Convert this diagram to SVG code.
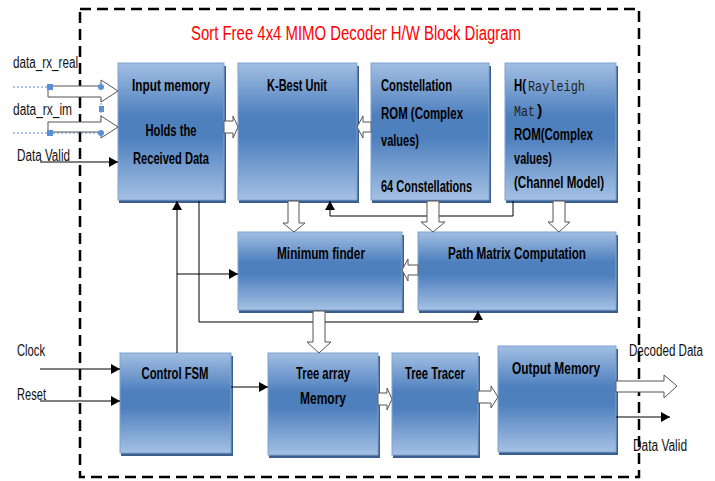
<svg xmlns="http://www.w3.org/2000/svg" width="715" height="481" viewBox="0 0 715 481">
<defs>
<linearGradient id="g" x1="0" y1="0" x2="0" y2="1">
<stop offset="0" stop-color="#a2bfe3"/>
<stop offset="0.38" stop-color="#4f80be"/>
<stop offset="0.55" stop-color="#4f80be"/>
<stop offset="1" stop-color="#a5c1e4"/>
</linearGradient>
<marker id="ah" markerUnits="userSpaceOnUse" markerWidth="9" markerHeight="10" refX="9" refY="5" orient="auto">
<path d="M0,0 L9,5 L0,10 z" fill="#000"/>
</marker>
<style>
.blk{fill:url(#g);stroke:#7fa3cf;stroke-width:1}
.sh{fill:#3a5f8f}
.t{font-family:"Liberation Sans",Arial,sans-serif;font-size:16px;font-weight:bold;fill:#000}
.tm{font-family:"Liberation Mono",monospace;font-size:14px;font-weight:normal;fill:#222}
.lbl{font-family:"Liberation Sans",Arial,sans-serif;font-size:16px;fill:#111}
.ha{fill:#fff;stroke:#555;stroke-width:1}
.la{fill:none;stroke:#000;stroke-width:1;marker-end:url(#ah)}
.sel{fill:none;stroke:#5b8fd8;stroke-width:1;stroke-dasharray:2 2}
.hd{fill:#5b8fd8}
</style>
</defs>
<rect x="0" y="0" width="715" height="481" fill="#fff"/>
<rect x="80" y="9" width="559" height="468" fill="none" stroke="#000" stroke-width="2.5" stroke-dasharray="11 6"/>
<text x="356" y="40" text-anchor="middle" font-family="'Liberation Sans',Arial,sans-serif" font-size="20" fill="#ff0000" textLength="330" lengthAdjust="spacingAndGlyphs">Sort Free 4x4 MIMO Decoder H/W Block Diagram</text>

<g id="input-memory">
<rect class="sh" x="119" y="66" width="107" height="137"/>
<rect class="blk" x="118" y="63" width="106" height="137"/>
<text class="t" x="171" y="91" text-anchor="middle" textLength="78" lengthAdjust="spacingAndGlyphs">Input memory</text>
<text class="t" x="171" y="136" text-anchor="middle" textLength="51" lengthAdjust="spacingAndGlyphs">Holds the</text>
<text class="t" x="171" y="164" text-anchor="middle" textLength="76" lengthAdjust="spacingAndGlyphs">Received Data</text>
</g>
<g id="kbest">
<rect class="sh" x="239" y="66" width="120" height="137"/>
<rect class="blk" x="238" y="63" width="119" height="137"/>
<text class="t" x="297" y="91" text-anchor="middle" textLength="60" lengthAdjust="spacingAndGlyphs">K-Best Unit</text>
</g>
<g id="constellation-rom">
<rect class="sh" x="372" y="66" width="119" height="137"/>
<rect class="blk" x="371" y="63" width="118" height="137"/>
<text class="t" x="381" y="91" textLength="71" lengthAdjust="spacingAndGlyphs">Constellation</text>
<text class="t" x="381" y="119" textLength="82" lengthAdjust="spacingAndGlyphs">ROM (Complex</text>
<text class="t" x="381" y="146" textLength="38" lengthAdjust="spacingAndGlyphs">values)</text>
<text class="t" x="381" y="192" textLength="91" lengthAdjust="spacingAndGlyphs">64 Constellations</text>
</g>
<g id="h-rom">
<rect class="sh" x="506" y="66" width="112" height="137"/>
<rect class="blk" x="505" y="63" width="111" height="137"/>
<text class="t" x="514" y="91" textLength="12" lengthAdjust="spacingAndGlyphs">H(</text>
<text class="tm" x="528" y="91" textLength="57" lengthAdjust="spacingAndGlyphs">Rayleigh</text>
<text class="tm" x="514" y="116" textLength="21" lengthAdjust="spacingAndGlyphs">Mat</text>
<text class="t" x="537" y="116">)</text>
<text class="t" x="514" y="140" textLength="79" lengthAdjust="spacingAndGlyphs">ROM(Complex</text>
<text class="t" x="514" y="164" textLength="38" lengthAdjust="spacingAndGlyphs">values)</text>
<text class="t" x="514" y="188" textLength="90" lengthAdjust="spacingAndGlyphs">(Channel Model)</text>
</g>
<g id="minimum-finder">
<rect class="sh" x="239" y="235" width="165" height="78"/>
<rect class="blk" x="238" y="232" width="164" height="78"/>
<text class="t" x="321" y="259" text-anchor="middle" textLength="88" lengthAdjust="spacingAndGlyphs">Minimum finder</text>
</g>
<g id="path-matrix">
<rect class="sh" x="419" y="235" width="199" height="78"/>
<rect class="blk" x="418" y="232" width="198" height="78"/>
<text class="t" x="517" y="259" text-anchor="middle" textLength="138" lengthAdjust="spacingAndGlyphs">Path Matrix Computation</text>
</g>
<g id="control-fsm">
<rect class="sh" x="121" y="356" width="112" height="100"/>
<rect class="blk" x="120" y="353" width="111" height="100"/>
<text class="t" x="175" y="379" text-anchor="middle" textLength="67" lengthAdjust="spacingAndGlyphs">Control FSM</text>
</g>
<g id="tree-array">
<rect class="sh" x="269" y="356" width="111" height="102"/>
<rect class="blk" x="268" y="353" width="110" height="102"/>
<text class="t" x="323" y="379" text-anchor="middle" textLength="54" lengthAdjust="spacingAndGlyphs">Tree array</text>
<text class="t" x="323" y="404" text-anchor="middle" textLength="46" lengthAdjust="spacingAndGlyphs">Memory</text>
</g>
<g id="tree-tracer">
<rect class="sh" x="393" y="356" width="87" height="102"/>
<rect class="blk" x="392" y="353" width="86" height="102"/>
<text class="t" x="435" y="379" text-anchor="middle" textLength="60" lengthAdjust="spacingAndGlyphs">Tree Tracer</text>
</g>
<g id="output-memory">
<rect class="sh" x="499" y="349" width="119" height="106"/>
<rect class="blk" x="498" y="346" width="118" height="106"/>
<text class="t" x="556" y="374" text-anchor="middle" textLength="88" lengthAdjust="spacingAndGlyphs">Output Memory</text>
</g>

<g id="connectors">
<path class="sel" d="M13 87 H101 M13 133 H101 M101 87 V133"/>
<polygon class="ha" points="48,86 101,86 101,80 118,91 101,102 101,97 48,97"/>
<polygon class="ha" points="48,122 101,122 101,116 118,127 101,138 101,132 48,132"/>
<rect class="hd" x="47" y="84" width="6" height="6"/>
<circle class="hd" cx="101" cy="87" r="3"/>
<rect class="hd" x="99" y="106" width="5" height="6"/>
<circle class="hd" cx="101" cy="133" r="3"/>
<rect class="hd" x="47" y="130" width="6" height="6"/>
<path class="la" d="M40 162 H118"/>
<path class="la" d="M40 369 H120"/>
<path class="la" d="M40 401 H120"/>
<path class="la" d="M231 387 H268"/>
<path class="la" d="M616 417 H670"/>
<path class="la" d="M177 353 V201"/>
<path class="la" d="M177 274 H238"/>
<path class="la" d="M199 201 V322 H478 V311"/>
<path class="la" d="M513 201 V216 H330 V201"/>
<polygon class="ha" points="224,121 233,121 233,116 238,127 233,138 233,133 224,133"/>
<polygon class="ha" points="371,122 363,122 363,116 357,127 363,138 363,132 371,132"/>
<polygon class="ha" points="288,201 299,201 299,223 305,223 294,232 283,223 288,223"/>
<polygon class="ha" points="427,201 439,201 439,222 445,222 433,232 421,222 427,222"/>
<polygon class="ha" points="553,201 565,201 565,222 570,222 559,232 548,222 553,222"/>
<polygon class="ha" points="418,265 408,265 408,259 402,270 408,281 408,275 418,275"/>
<polygon class="ha" points="313,311 325,311 325,342 331,342 319,353 307,342 313,342"/>
<polygon class="ha" points="378,393 387,393 387,388 392,399 387,410 387,405 378,405"/>
<polygon class="ha" points="478,391 491,391 491,386 498,397 491,408 491,403 478,403"/>
<polygon class="ha" points="616,381 664,381 664,375 677,386 664,398 664,392 616,392"/>
</g>

<g id="labels">
<text class="lbl" x="13" y="68" textLength="65" lengthAdjust="spacingAndGlyphs">data_rx_real</text>
<text class="lbl" x="13" y="115" textLength="59" lengthAdjust="spacingAndGlyphs">data_rx_im</text>
<text class="lbl" x="17" y="161" textLength="53" lengthAdjust="spacingAndGlyphs">Data Valid</text>
<text class="lbl" x="17" y="356" textLength="28" lengthAdjust="spacingAndGlyphs">Clock</text>
<text class="lbl" x="17" y="400" textLength="29" lengthAdjust="spacingAndGlyphs">Reset</text>
<text class="lbl" x="629" y="356" textLength="74" lengthAdjust="spacingAndGlyphs">Decoded Data</text>
<text class="lbl" x="633" y="451" textLength="54" lengthAdjust="spacingAndGlyphs">Data Valid</text>
</g>
</svg>
